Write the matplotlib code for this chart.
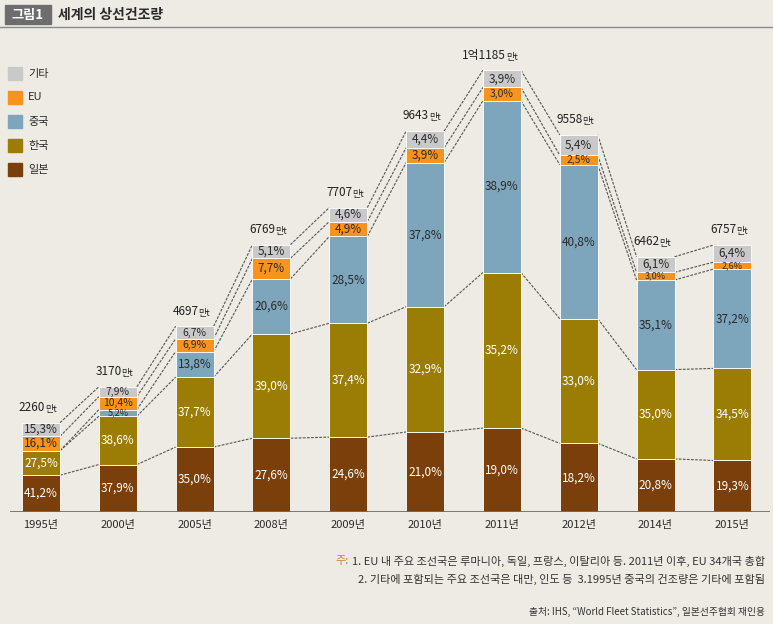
import numpy as np
import matplotlib
matplotlib.use("Agg")
import matplotlib.pyplot as plt
from matplotlib.patches import Rectangle

plt.rcParams['font.family'] = ['Noto Sans CJK KR', 'DejaVu Sans']

years = ['1995년', '2000년', '2005년', '2008년', '2009년',
         '2010년', '2011년', '2012년', '2014년', '2015년']
totals = [2260, 3170, 4697, 6769, 7707, 9643, 11185, 9558, 6462, 6757]
total_labels = ['2260', '3170', '4697', '6769', '7707',
                '9643', '1억1185', '9558', '6462', '6757']

# shares in percent, bottom to top
japan = [41.2, 37.9, 35.0, 27.6, 24.6, 21.0, 19.0, 18.2, 20.8, 19.3]
korea = [27.5, 38.6, 37.7, 39.0, 37.4, 32.9, 35.2, 33.0, 35.0, 34.5]
china = [0.0, 5.2, 13.8, 20.6, 28.5, 37.8, 38.9, 40.8, 35.1, 37.2]
eu = [16.1, 10.4, 6.9, 7.7, 4.9, 3.9, 3.0, 2.5, 3.0, 2.6]
other = [15.3, 7.9, 6.7, 5.1, 4.6, 4.4, 3.9, 5.4, 6.1, 6.4]

series = [('일본', japan, '#7a3f0a', 'white'),
          ('한국', korea, '#9b7d06', 'white'),
          ('중국', china, '#7da6bd', '#2b2b2b'),
          ('EU', eu, '#f7931e', '#2b2b2b'),
          ('기타', other, '#c9c9c9', '#2b2b2b')]

bg = '#eeebe4'
fig = plt.figure(figsize=(7.73, 6.24), dpi=100, facecolor=bg)

# title
fig.patches.append(Rectangle((5 / 773, 1 - 24 / 624), 46 / 773, 19 / 624,
                             transform=fig.transFigure, color='#6d6d6d'))
fig.text(28 / 773, 1 - 14.5 / 624, '그림1', color='white', fontsize=9.5,
         fontweight='bold', ha='center', va='center')
fig.text(58 / 773, 1 - 14.5 / 624, '세계의 상선건조량', color='#2a2a2a',
         fontsize=10, fontweight='bold', va='center')
fig.add_artist(plt.Line2D([0, 1], [1 - 27 / 624] * 2, color='#8a8a8a', lw=1))

ax = fig.add_axes([10 / 773, 112 / 624, 760 / 773, 477 / 624])
ax.set_facecolor('none')
x = np.arange(len(years))
w = 0.495
ax.set_xlim(-0.404, 9.49)
ax.set_ylim(0, 12076)

totals_a = np.array(totals, dtype=float)
px = 477 / 12076  # pixels per unit, for sizing small labels
bottom = np.zeros(len(years))
bounds = []
for name, vals, col, tcol in series:
    h = totals_a * np.array(vals) / 100.0
    ax.bar(x, h, w, bottom=bottom, color=col, edgecolor='white', linewidth=0.6,
           zorder=2)
    for i in range(len(x)):
        if vals[i] > 0:
            hp = h[i] * px
            fs = 8.5 if hp > 13.5 else (7.5 if hp > 8 else 6.5)
            ax.text(x[i], bottom[i] + h[i] / 2, f'{vals[i]:.1f}%'.replace('.', ','),
                    ha='center', va='center', color=tcol, fontsize=fs, zorder=4)
    bottom = bottom + h
    bounds.append(bottom.copy())

# dashed connectors between bars
for b in bounds:
    for i in range(len(x) - 1):
        ax.plot([x[i] + w / 2, x[i + 1] - w / 2], [b[i], b[i + 1]],
                color='#555555', lw=0.8, ls=(0, (2.5, 1.2)), zorder=1)

for i in range(len(x)):
    ax.text(x[i] + 0.05, totals_a[i] + 220, total_labels[i], ha='right',
            va='bottom', fontsize=8.5, color='#222222')
    ax.text(x[i] + 0.05, totals_a[i] + 220, '만t', ha='left', va='bottom',
            fontsize=6.5, color='#222222')

ax.axhline(0, color='#6d6d6d', lw=2, zorder=3)
for s in ax.spines.values():
    s.set_visible(False)
ax.set_yticks([])
ax.set_xticks(x)
ax.set_xticklabels(years, fontsize=8, color='#2a2a2a')
ax.tick_params(axis='x', length=0, pad=6)

# legend
for k, (name, vals, col, tcol) in enumerate(reversed(series)):
    y0 = 1 - (80 + 24 * k) / 624
    fig.patches.append(Rectangle((8 / 773, y0), 14 / 773, 13 / 624,
                                 transform=fig.transFigure, color=col))
    fig.text(28 / 773, y0 + 6.5 / 624, name, fontsize=8, color='#2a2a2a',
             va='center')

# notes
fig.text(765 / 773, 1 - 561 / 624,
         '1. EU 내 주요 조선국은 루마니아, 독일, 프랑스, 이탈리아 등. 2011년 이후, EU 34개국 총합',
         ha='right', va='center', fontsize=8, color='#333333')
fig.text(349 / 773, 1 - 561 / 624, '주:', ha='right', va='center', fontsize=8,
         color='#c4833a')
fig.text(765 / 773, 1 - 579 / 624,
         '2. 기타에 포함되는 주요 조선국은 대만, 인도 등  3.1995년 중국의 건조량은 기타에 포함됨',
         ha='right', va='center', fontsize=8, color='#333333')
fig.text(765 / 773, 1 - 612 / 624,
         '출처: IHS, “World Fleet Statistics”, 일본선주협회 재인용',
         ha='right', va='center', fontsize=7, color='#333333')

fig.savefig('out.png', dpi=100, facecolor=bg)
